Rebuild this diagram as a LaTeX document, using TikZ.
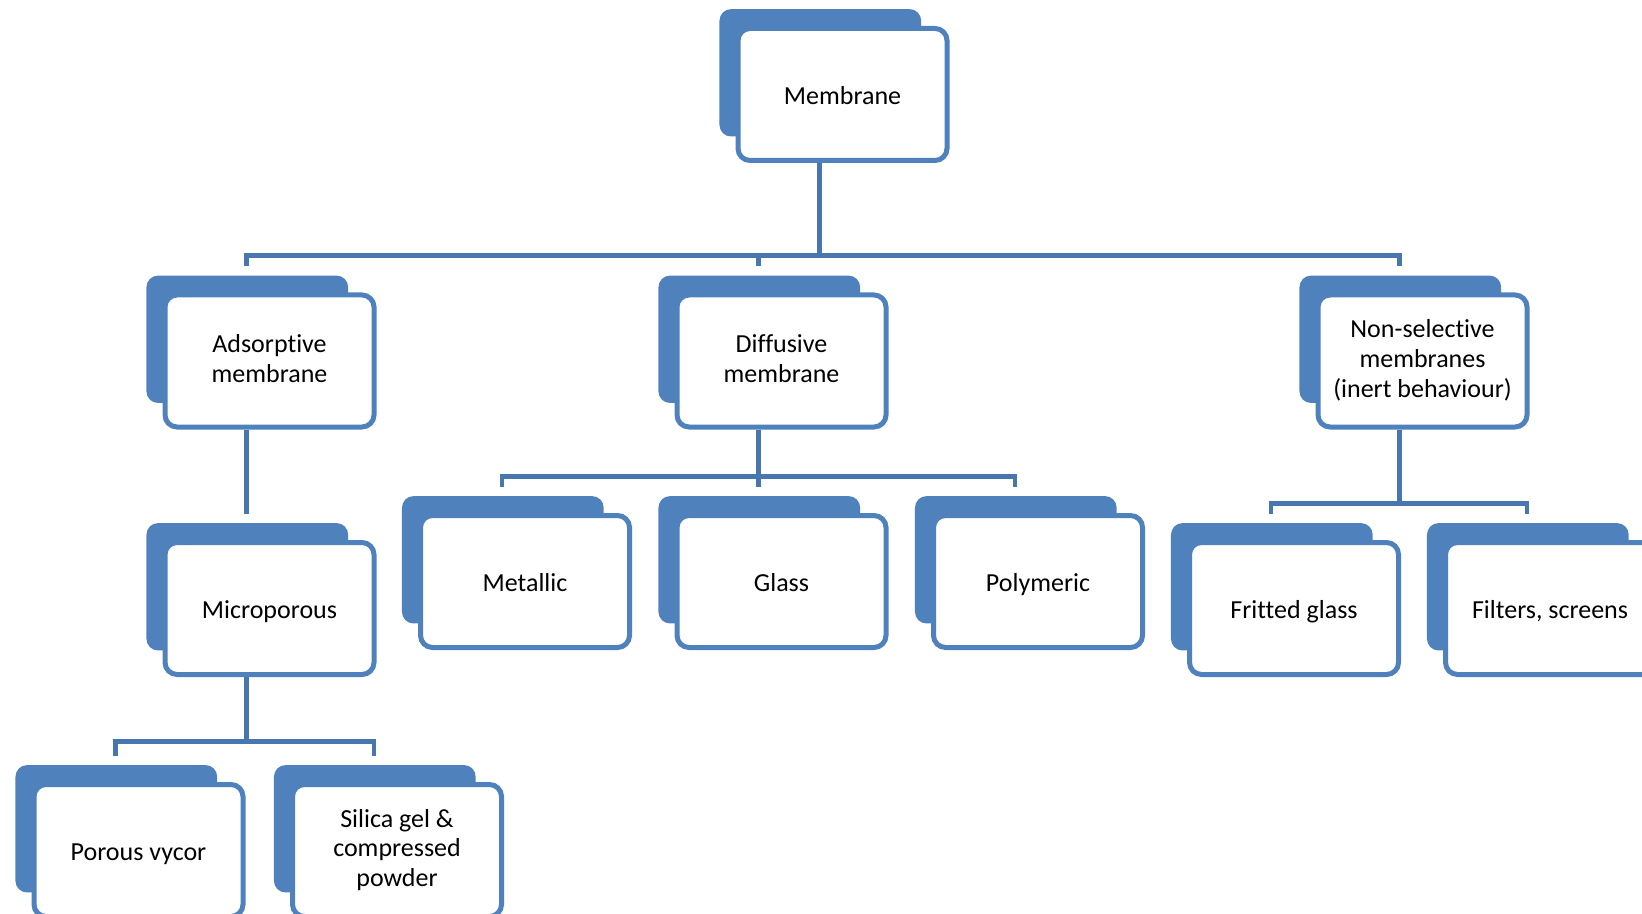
\documentclass[tikz,border=0pt]{standalone}
\usepackage{fontspec}
\setmainfont{Carlito}[Ligatures=NoCommon]
\usetikzlibrary{shadows, calc}

\definecolor{cardblue}{HTML}{4F81BD}
\definecolor{linkblue}{HTML}{4877B0}
\newcommand\cardstrut{\rule[-2.6pt]{0pt}{14.9pt}}

\begin{document}
\begin{tikzpicture}[x=0.5pt, y=-0.5pt, font=\fontsize{13pt}{14.9pt}\selectfont,
	card/.style={draw=cardblue, line width=2.5pt, fill=white, rounded corners=6pt,
		minimum width=104.5pt, minimum height=66pt, align=center, inner sep=2pt,
		execute at begin node=\cardstrut, execute at end node=\cardstrut,
		general shadow={fill=cardblue, shadow xshift=-11.5pt, shadow yshift=11.25pt, shadow scale=0.965}},
	link/.style={draw=linkblue, line width=2.25pt}]

\clip (0,0) rectangle (1642,914);

% top level
\node[card] (mem) at (842.5,94.5) {Membrane};

% membrane types
\node[card] (ads) at (269.5,361) {Adsorptive\\membrane};
\node[card] (dif) at (781.5,361) {Diffusive\\membrane};
\node[card] (nons) at (1422.5,361) {Non-selective\\membranes\\(inert behaviour)};

% materials
\node[card] (mic) at (269.5,608.5) {Microporous};
\node[card] (met) at (525,581.5) {Metallic};
\node[card] (gla) at (781.5,581.5) {Glass};
\node[card] (pol) at (1038,581.5) {Polymeric};
\node[card] (fri) at (1294,608.5) {Fritted glass};
\node[card] (fil) at (1550,608.5) {Filters, screens};
\node[card] (vyc) at (138.5,850.5) {Porous vycor};
\node[card] (sil) at (397,850.5) {Silica gel \&\\compressed\\powder};

% connectors
\draw[link] ($(mem.south)+(-23,0)$) -- ++(0,92.5) -| ($(ads.north)+(-23,-26)$);
\draw[link] ($(mem.south)+(-23,0)$) -- ++(0,92.5) -| ($(dif.north)+(-23,-26)$);
\draw[link] ($(mem.south)+(-23,0)$) -- ++(0,92.5) -| ($(nons.north)+(-23,-26)$);

\draw[link] ($(ads.south)+(-23,0)$) -- ($(mic.north)+(-23,-26)$);

\draw[link] ($(dif.south)+(-23,0)$) -- ++(0,47) -| ($(met.north)+(-23,-26)$);
\draw[link] ($(dif.south)+(-23,0)$) -- ($(gla.north)+(-23,-26)$);
\draw[link] ($(dif.south)+(-23,0)$) -- ++(0,47) -| ($(pol.north)+(-23,-26)$);

\draw[link] ($(nons.south)+(-23,0)$) -- ++(0,74) -| ($(fri.north)+(-23,-26)$);
\draw[link] ($(nons.south)+(-23,0)$) -- ++(0,74) -| ($(fil.north)+(-23,-26)$);

\draw[link] ($(mic.south)+(-23,0)$) -- ++(0,64.5) -| ($(vyc.north)+(-23,-26)$);
\draw[link] ($(mic.south)+(-23,0)$) -- ++(0,64.5) -| ($(sil.north)+(-23,-26)$);
\end{tikzpicture}
\end{document}
